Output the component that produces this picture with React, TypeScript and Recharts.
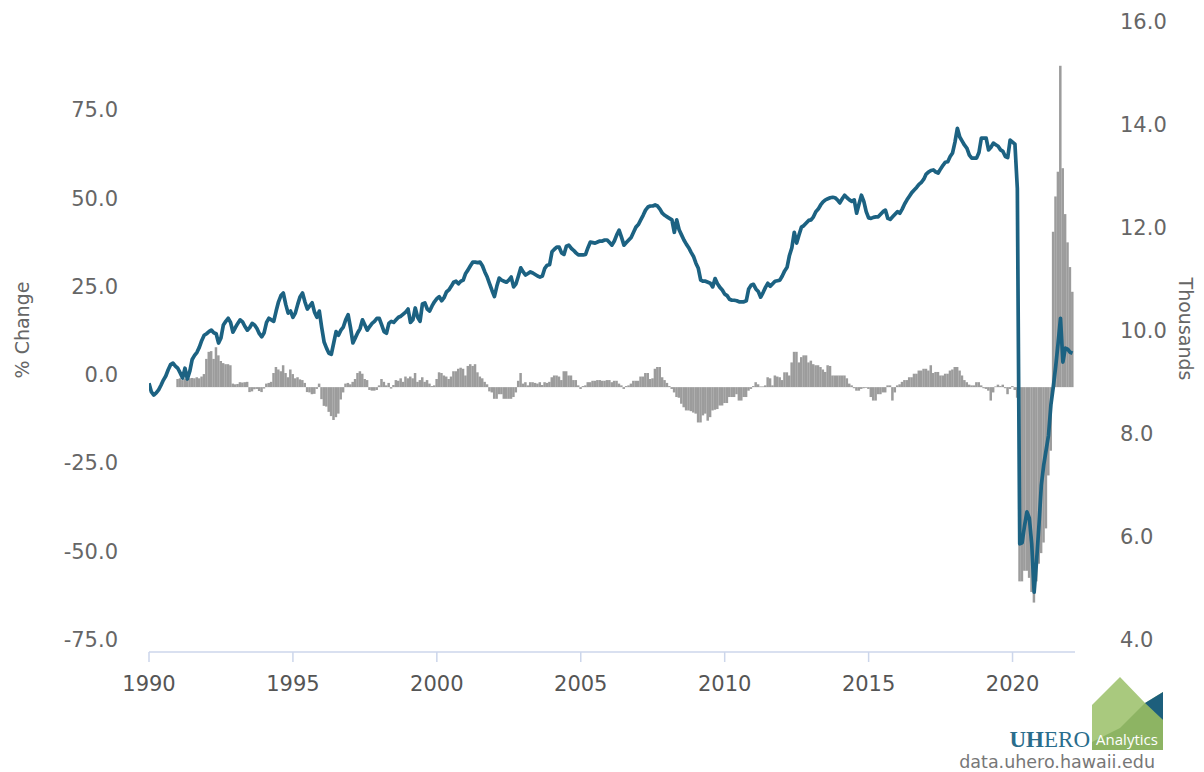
import { Bar, ComposedChart, Line, XAxis, YAxis } from 'recharts';

const START_YEAR = 1990;
const YEAR_TICKS = [1990, 1995, 2000, 2005, 2010, 2015, 2020];
const PCT_TICKS = [-75, -50, -25, 0, 25, 50, 75];
const LEVEL_TICKS = [4, 6, 8, 10, 12, 14, 16];

// monthly level, thousands (right axis)
const LEVEL_1990S = [
  9.22, 9.05, 8.99, 9.03, 9.09, 9.18, 9.28, 9.36, 9.48, 9.58, 9.61, 9.55,
  9.51, 9.42, 9.32, 9.51, 9.3, 9.45, 9.68, 9.76, 9.82, 9.92, 10.05, 10.15,
  10.18, 10.22, 10.25, 10.2, 10.18, 10.0, 10.1, 10.35, 10.42, 10.48, 10.4, 10.21,
  10.3, 10.38, 10.45, 10.41, 10.32, 10.25, 10.3, 10.38, 10.35, 10.28, 10.18, 10.12,
  10.2, 10.4, 10.48, 10.45, 10.42, 10.62, 10.8, 10.92, 10.97, 10.75, 10.58, 10.62,
  10.5, 10.58, 10.75, 10.9, 10.97, 10.8, 10.66, 10.72, 10.78, 10.6, 10.5, 10.62,
  10.3, 10.02, 9.9, 9.8, 9.78, 10.0, 10.22, 10.15, 10.25, 10.31, 10.45, 10.55,
  10.3, 10.0, 10.1, 10.2, 10.28, 10.45, 10.35, 10.25, 10.32, 10.38, 10.42, 10.48,
  10.48, 10.35, 10.22, 10.19, 10.38, 10.42, 10.4, 10.45, 10.5, 10.52, 10.56, 10.6,
  10.66, 10.4, 10.45, 10.68, 10.5, 10.42, 10.76, 10.78, 10.66, 10.62, 10.72, 10.8,
];
const LEVEL_2000S = [
  10.86, 10.9, 10.82, 10.88, 10.99, 11.03, 11.1, 11.18, 11.2, 11.15, 11.2, 11.22,
  11.35, 11.42, 11.5, 11.57, 11.57, 11.56, 11.57, 11.5, 11.38, 11.28, 11.15, 11.02,
  10.9, 11.1, 11.26, 11.22, 11.2, 11.18, 11.22, 11.28, 11.09, 11.15, 11.3, 11.46,
  11.38, 11.32, 11.35, 11.38, 11.36, 11.33, 11.3, 11.28, 11.3, 11.45, 11.51, 11.52,
  11.77, 11.82, 11.86, 11.86, 11.75, 11.72, 11.88, 11.9, 11.84, 11.8, 11.75, 11.71,
  11.71, 11.71, 11.72, 11.85, 11.96, 11.95, 11.94, 11.96, 11.98, 11.98, 12.0, 12.0,
  11.95, 11.9, 11.98, 12.1, 12.19, 12.05, 11.9, 11.95, 12.0, 12.05, 12.15, 12.25,
  12.3, 12.39, 12.48, 12.58, 12.64, 12.66, 12.66, 12.68, 12.66, 12.6, 12.52, 12.48,
  12.45, 12.42, 12.39, 12.15, 12.39, 12.2, 12.1, 12.0, 11.92, 11.85, 11.76, 11.68,
  11.55, 11.45, 11.22, 11.2, 11.2, 11.18, 11.16, 11.09, 11.25, 11.15, 11.08, 11.03,
];
const LEVEL_2010S = [
  10.95, 10.92, 10.85, 10.83, 10.83, 10.82, 10.8, 10.8, 10.8, 10.82, 11.05, 11.12,
  11.14, 11.05, 11.0, 10.89, 10.98, 11.08, 11.16, 11.1, 11.15, 11.2, 11.21, 11.22,
  11.3, 11.4, 11.47, 11.7, 11.85, 12.15, 11.94, 12.1, 12.25, 12.28, 12.33, 12.38,
  12.39, 12.45, 12.55, 12.6, 12.68, 12.74, 12.78, 12.8, 12.82, 12.83, 12.82, 12.78,
  12.72, 12.8, 12.87, 12.82, 12.78, 12.75, 12.78, 12.52, 12.7, 12.87, 12.75, 12.55,
  12.43, 12.42, 12.44, 12.45, 12.45, 12.5, 12.55, 12.58, 12.42, 12.4, 12.45, 12.5,
  12.55, 12.52, 12.6, 12.7, 12.78, 12.85, 12.92, 12.97, 13.02, 13.08, 13.12, 13.18,
  13.28, 13.32, 13.35, 13.36, 13.32, 13.3, 13.38, 13.45, 13.51, 13.52, 13.62, 13.69,
  13.9, 14.17, 14.0, 13.92, 13.84, 13.78, 13.65, 13.59, 13.59, 13.59, 13.7, 13.98,
  13.98, 13.98, 13.75, 13.8, 13.88, 13.85, 13.82, 13.75, 13.72, 13.62, 13.6, 13.94,
];
const LEVEL_2020S = [
  13.9, 13.86, 13.0, 6.1, 6.12, 6.45, 6.72, 6.6, 6.1, 5.16, 5.75, 6.45,
  7.24, 7.63, 7.92, 8.21, 8.8, 9.15, 9.55, 10.0, 10.48, 9.63, 9.9, 9.88,
  9.82, 9.8,
];

// monthly % change year over year (left axis)
const PCT_1990S = [
  null, null, null, null, null, null, null, null, null, null, null, null,
  2.3, 2.5, 2.0, 2.4, 2.5, 2.5, 2.6, 2.5, 2.8, 2.5, 3.0, 3.7,
  8.0, 10.0, 10.2, 8.0, 11.3, 9.0, 7.4, 6.8, 6.5, 6.5, 6.2, 1.0,
  0.8, 0.9, 1.4, 1.3, 1.4, 1.5, -1.4, -1.2, -0.6, -0.5, -1.1, -1.4,
  -0.4, 1.0, 1.2, 1.5, 4.0, 5.7, 5.0, 4.5, 6.2, 4.0, 2.8, 5.0,
  3.7, 2.5, 2.8, 2.2, 2.0, 1.2, -1.4, -1.5, -2.0, -1.9, -0.5, 1.0,
  -3.4, -5.3, -5.5, -7.0, -8.2, -9.3, -8.5, -7.5, -3.5, -1.5, 1.0, 1.2,
  0.8, 1.5, 2.3, 4.0, 4.5, 3.8, 2.3, 2.0, -0.8, -1.0, -1.0, -0.8,
  0.5, 2.3, 1.5, 0.5, 1.2, -0.4, 0.6, 2.0, 1.8, 2.5, 1.5, 3.0,
  2.5, 3.0, 2.5, 4.0, 1.5, 2.0, 2.8, 1.5, 2.0, 1.0, 0.3, 0.5,
];
const PCT_2000S = [
  2.3, 4.2, 4.0, 3.3, 3.0, 2.3, 3.0, 4.5, 4.5, 5.2, 5.5, 5.2,
  3.3, 6.0, 6.5, 6.0, 6.5, 4.2, 3.0, 2.5, 1.5, 0.8, -1.2, -1.5,
  -3.3, -3.3, -2.0, -2.0, -3.3, -3.3, -3.3, -3.3, -2.8, -1.5, 1.8, 4.0,
  1.0, 1.4, 0.5, 1.4, 1.4, 1.2, 1.0, 1.4, 0.6, 1.4, 1.2, 1.5,
  2.8, 3.3, 3.3, 3.0, 2.0, 4.5, 4.5, 3.3, 3.3, 2.0, 2.0, 0.5,
  -0.5, 0.3, 0.5, 1.4, 1.4, 1.8, 1.8, 2.0, 2.0, 1.8, 1.8, 2.0,
  2.0, 1.4, 1.8, 1.8, 1.0, 0.5, -0.5, 0.3, 0.5, 1.0, 1.8, 1.8,
  1.8, 3.0, 3.0, 4.0, 4.0, 2.3, 2.5, 5.2, 5.7, 5.7, 2.8, 2.0,
  1.2, 0.3, -0.5, -1.5, -2.8, -3.0, -4.7, -5.7, -6.6, -6.6, -6.8, -7.2,
  -7.5, -10.0, -10.0, -8.0, -7.5, -9.5, -8.5, -6.6, -6.4, -6.2, -5.2, -5.2,
];
const PCT_2010S = [
  -4.5, -4.5, -2.8, -2.8, -2.8, -2.0, -3.8, -3.8, -2.8, -2.8, -1.0, -0.5,
  0.3, 1.4, 0.8, 0.2, 0.2, 0.5, 2.8, 2.5, 0.5, 3.3, 3.0, 2.8,
  2.0, 4.2, 4.2, 3.3, 7.0, 10.0, 10.0, 7.0, 8.5, 9.0, 9.0, 7.0,
  7.5, 6.5, 6.2, 6.2, 5.7, 5.0, 4.3, 6.2, 6.0, 3.3, 3.3, 3.3,
  3.3, 3.3, 3.3, 2.5, 1.0, 0.5, -0.3, -1.0, -1.0, -0.5, -0.3, -0.2,
  -0.5, -2.8, -3.8, -3.8, -2.0, -2.0, -1.5, -1.5, 0.5, 0.5, -3.8, -1.5,
  0.5, 0.8, 1.5, 2.0, 2.0, 2.8, 2.8, 3.8, 3.8, 4.7, 4.7, 5.2,
  5.2, 4.7, 6.2, 4.0, 4.3, 4.3, 3.3, 3.3, 3.8, 3.8, 4.7, 5.0,
  5.7, 5.7, 4.7, 3.3, 2.0, 1.4, 0.7, 0.5, 0.5, 1.4, 1.4, 0.5,
  -0.3, -0.5, -1.0, -3.8, -1.5, 0.2, 0.7, 0.3, 0.7, -0.3, -2.0, -0.5,
];
const PCT_2020S = [
  0.3, -0.8, -3.0, -55, -55, -52, -52, -54, -58, -61, -55, -50,
  -47, -44, -40, -25, -18, 44, 54, 61, 91, 62, 49, 41,
  34, 27,
];

const LEVEL = [...LEVEL_1990S, ...LEVEL_2000S, ...LEVEL_2010S, ...LEVEL_2020S];
const PCT = [...PCT_1990S, ...PCT_2000S, ...PCT_2010S, ...PCT_2020S];

const DATA = LEVEL.map((level, i) => ({
  t: START_YEAR + i / 12,
  level,
  pct: PCT[i],
}));

const W = 1204;
const H = 772;
const FONT = '"DejaVu Sans", Verdana, sans-serif';
const LABEL_COLOR = '#666666';
const AXIS_COLOR = '#ccd6eb';
const LINE_COLOR = '#1c6282';
const BAR_COLOR = '#9c9c9c';
const BAR_W = 2.5;

function LeftTick({ y, payload }: any) {
  return (
    <text x={118} y={y - 12} textAnchor="end" dominantBaseline="central" fill={LABEL_COLOR} fontSize={21} fontFamily={FONT}>
      {Number(payload.value).toFixed(1)}
    </text>
  );
}

function RightTick({ y, payload }: any) {
  return (
    <text x={1120} y={y - 12} textAnchor="start" dominantBaseline="central" fill={LABEL_COLOR} fontSize={21} fontFamily={FONT}>
      {Number(payload.value).toFixed(1)}
    </text>
  );
}

function YearTick({ x, payload }: any) {
  return (
    <text x={x} y={691} textAnchor="middle" fill="#555555" fontSize={21} fontFamily={FONT}>
      {Math.round(payload.value)}
    </text>
  );
}

// monthly column, a touch wider than the band so neighbours butt together
function MonthBar({ x, y, width, height }: any) {
  if (x == null || y == null || !height) return null;
  const top = Math.min(y, y + height);
  return <rect x={x + width / 2 - BAR_W / 2} y={top} width={BAR_W} height={Math.abs(height)} fill={BAR_COLOR} />;
}

function Overlay() {
  return (
    <svg width={W} height={H} style={{ position: 'absolute', left: 0, top: 0, pointerEvents: 'none' }}>
      <text
        transform="translate(22 330) rotate(-90)"
        textAnchor="middle"
        dominantBaseline="central"
        fill={LABEL_COLOR}
        fontSize={19}
        fontFamily={FONT}
      >
        % Change
      </text>
      <text
        transform="translate(1186 329) rotate(90)"
        textAnchor="middle"
        dominantBaseline="central"
        fill={LABEL_COLOR}
        fontSize={19}
        fontFamily={FONT}
      >
        Thousands
      </text>
      {/* logo */}
      <polygon points="1092,705 1120,677 1145,703 1163,692 1163,750 1092,750" fill="#a9c97e" />
      <polygon points="1092,742 1120,728 1145,703 1163,720 1163,750 1092,750" fill="#8db463" />
      <polygon points="1145,703 1163,692 1163,720" fill="#1d5f7c" />
      <text x={1127} y={745} textAnchor="middle" fill="#ffffff" fontSize={15} fontFamily='"Open Sans", sans-serif'>
        Analytics
      </text>
      <text x={1090} y={747} textAnchor="end" fontSize={23} fontFamily='"Liberation Serif", serif' fill="#2a6d8c">
        <tspan fontWeight="bold">UH</tspan>
        <tspan>ERO</tspan>
      </text>
      <text x={1155} y={768} textAnchor="end" fill="#777777" fontSize={17.5} fontFamily={FONT}>
        data.uhero.hawaii.edu
      </text>
    </svg>
  );
}

export default function App() {
  return (
    <div style={{ position: 'absolute', left: 0, top: 0, width: W, height: H, background: '#ffffff' }}>
      <ComposedChart width={W} height={H} data={DATA} margin={{ top: 34, right: 0, bottom: 70, left: 49 }}>
        <XAxis
          dataKey="t"
          type="number"
          domain={[1990, 2022.17]}
          ticks={YEAR_TICKS}
          allowDataOverflow
          height={50}
          tickSize={10}
          axisLine={{ stroke: AXIS_COLOR, strokeWidth: 1.5 }}
          tickLine={{ stroke: AXIS_COLOR, strokeWidth: 1.5 }}
          tick={<YearTick />}
          interval={0}
        />
        <YAxis
          yAxisId="pct"
          orientation="left"
          width={100}
          domain={[-75, 100]}
          ticks={PCT_TICKS}
          allowDataOverflow
          axisLine={false}
          tickLine={false}
          tick={<LeftTick />}
          interval={0}
        />
        <YAxis
          yAxisId="level"
          orientation="right"
          width={129}
          domain={[4, 16]}
          ticks={LEVEL_TICKS}
          allowDataOverflow
          axisLine={false}
          tickLine={false}
          tick={<RightTick />}
          interval={0}
        />
        <Bar yAxisId="pct" dataKey="pct" fill={BAR_COLOR} barSize={2} shape={<MonthBar />} isAnimationActive={false} />
        <Line
          yAxisId="level"
          dataKey="level"
          type="linear"
          stroke={LINE_COLOR}
          strokeWidth={3.7}
          strokeLinejoin="round"
          dot={false}
          activeDot={false}
          isAnimationActive={false}
        />
      </ComposedChart>
      <Overlay />
    </div>
  );
}
